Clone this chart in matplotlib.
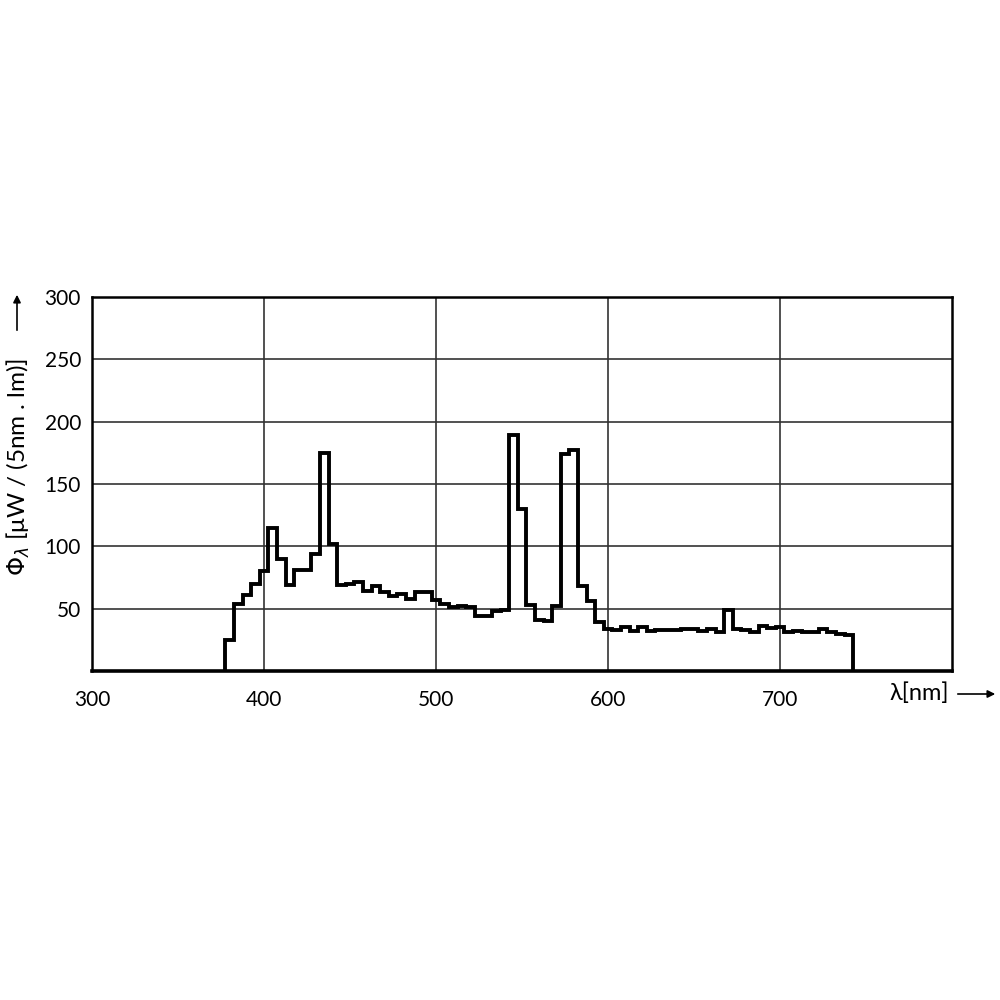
"""Spectral power distribution, 5 nm bins, drawn as a step outline."""
import numpy as np
import matplotlib
matplotlib.use("Agg")
import matplotlib.pyplot as plt

plt.rcParams["font.family"] = ["Lato", "DejaVu Sans"]

# bin centres (nm) and values [uW / (5nm . lm)]
wavelength = np.arange(380, 745, 5)
power = [
    25, 54, 61, 70, 80, 115, 90, 69, 81, 81,        # 380-425
    94, 175, 102, 69, 70, 71, 64, 68, 63, 60,       # 430-475
    62, 58, 63, 63, 57, 54, 51, 52, 51, 44.5,       # 480-525
    44, 48, 49, 189, 130, 53, 41, 40.5, 52, 174,    # 530-575
    177, 68, 56, 39.5, 34, 33, 35, 32, 35, 31.7,    # 580-625
    32.5, 32.5, 32.5, 34, 34, 31.7, 34, 31.4, 49, 34,   # 630-675
    33, 31.5, 36, 34.4, 35, 31, 32, 31, 31, 33.3,   # 680-725
    31, 30, 29,                                     # 730-740
]
x_ticks = [300, 400, 500, 600, 700]
y_ticks = [50, 100, 150, 200, 250, 300]

edges = np.append(wavelength - 2.5, wavelength[-1] + 2.5)

fig = plt.figure(figsize=(10, 10), dpi=100)
ax = fig.add_axes([0.092, 0.329, 0.860, 0.374])

ax.stairs(power, edges, baseline=0, color="black", linewidth=2.8, zorder=3)

ax.set_xlim(300, 800)
ax.set_ylim(0, 300)
ax.set_xticks(x_ticks)
ax.set_yticks(y_ticks)
ax.tick_params(length=0, labelsize=15)
ax.tick_params(axis="x", pad=14)
ax.tick_params(axis="y", pad=8)
ax.grid(True, color="#333333", linewidth=1.2)
for s in ax.spines.values():
    s.set_linewidth(1.8)
ax.spines["bottom"].set_linewidth(2.6)

# axis labels with their arrows, placed in figure coords like the datasheet
fig.text(0.018, 0.533, r"$\Phi_\lambda$ [μW / (5nm . lm)]", rotation=90,
         ha="center", va="center", fontsize=17.5)
fig.add_artist(matplotlib.patches.FancyArrowPatch(
    (0.017, 0.667), (0.017, 0.708), transform=fig.transFigure,
    arrowstyle="-|>", mutation_scale=11, color="black", linewidth=1.2))
fig.text(0.919, 0.307, "λ[nm]", ha="center", va="center", fontsize=17)
fig.add_artist(matplotlib.patches.FancyArrowPatch(
    (0.955, 0.306), (0.998, 0.306), transform=fig.transFigure,
    arrowstyle="-|>", mutation_scale=11, color="black", linewidth=1.2))

fig.savefig("out.png", dpi=100)
